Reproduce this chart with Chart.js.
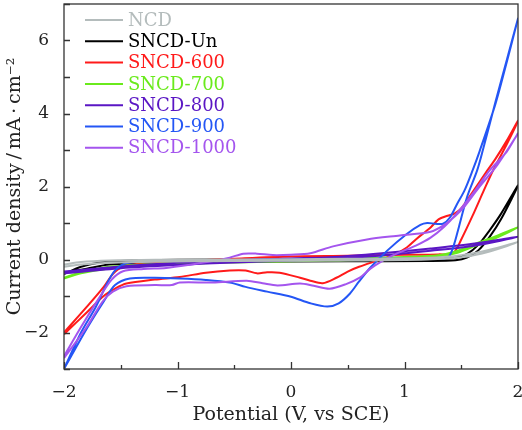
<!DOCTYPE html>
<html><head><meta charset="utf-8">
<script src="https://cdn.jsdelivr.net/npm/chart.js@4"></script>
<style>html,body{margin:0;padding:0;background:#fff}</style>
</head><body>
<canvas id="c" width="522" height="430"></canvas>
<script>
// ---- data (x = potential V vs SCE, y = current density mA/cm2), closed CV loops ----
const seriesNames = ["NCD", "SNCD-Un", "SNCD-600", "SNCD-700", "SNCD-800", "SNCD-900", "SNCD-1000"];
const seriesColors = ["#b4bcbc", "#000000", "#ff1a1a", "#6aea1c", "#5a16c4", "#2456f5", "#a455ee"];
const xTicks = [-2, -1, 0, 1, 2];
const yTicks = [-2, 0, 2, 4, 6];

const NCD = [[-2,-0.14],[-1.85,-0.07],[-1.6,-0.03],[-1.2,-0.01],[-0.5,0.0],[0.5,0.02],[1.2,0.05],[1.5,0.12],[1.75,0.27],[2,0.48],
  [1.75,0.22],[1.5,0.06],[1.2,0.0],[0.5,-0.03],[-0.5,-0.04],[-1.2,-0.06],[-1.6,-0.09],[-1.85,-0.14],[-2,-0.2]];
const SNCD_Un = [[-2,-0.4],[-1.85,-0.2],[-1.7,-0.09],[-1.5,-0.04],[-1,-0.01],[0,0.01],[0.8,0.02],[1.3,0.03],[1.45,0.05],[1.55,0.15],[1.65,0.4],[1.75,0.8],[1.85,1.25],[2,2.03],
  [1.85,1.1],[1.75,0.62],[1.65,0.25],[1.55,0.05],[1.45,-0.02],[1.2,-0.04],[0.5,-0.05],[-0.5,-0.06],[-1.2,-0.08],[-1.6,-0.14],[-1.8,-0.25],[-2,-0.36]];
const SNCD_600 = [[-2,-2.0],[-1.8,-1.3],[-1.65,-0.75],[-1.57,-0.4],[-1.48,-0.2],[-1.3,-0.1],[-1,-0.05],[-0.5,0.02],[0,0.08],[0.5,0.1],[1,0.13],[1.3,0.14],[1.43,0.18],[1.5,0.55],[1.6,1.2],[1.7,1.9],[1.78,2.44],[1.9,3.15],[2,3.8],
  [1.9,3.25],[1.8,2.75],[1.73,2.44],[1.6,1.85],[1.5,1.4],[1.44,1.26],[1.38,1.2],[1.3,1.1],[1.23,0.88],[1.1,0.55],[1.02,0.33],[0.9,0.12],[0.76,-0.03],[0.6,-0.2],[0.5,-0.33],[0.4,-0.5],[0.28,-0.65],[0.17,-0.58],[0.08,-0.5],[-0.1,-0.36],[-0.21,-0.35],[-0.3,-0.38],[-0.4,-0.3],[-0.54,-0.3],[-0.75,-0.36],[-0.98,-0.48],[-1.2,-0.55],[-1.45,-0.66],[-1.55,-0.8],[-1.65,-1.0],[-1.8,-1.45],[-2,-2.05]];
const SNCD_700 = [[-2,-0.5],[-1.85,-0.35],[-1.6,-0.2],[-1.2,-0.12],[-0.5,-0.05],[0.3,0.0],[1,0.07],[1.3,0.12],[1.45,0.22],[1.58,0.38],[1.8,0.63],[2,0.88],
  [1.8,0.58],[1.58,0.32],[1.45,0.17],[1.3,0.08],[1,0.02],[0.3,-0.03],[-0.5,-0.08],[-1.2,-0.15],[-1.6,-0.25],[-1.85,-0.38],[-2,-0.52]];
const SNCD_800 = [[-2,-0.33],[-1.5,-0.19],[-1,-0.09],[-0.5,-0.02],[0,0.03],[0.34,0.06],[0.8,0.17],[1.23,0.3],[1.6,0.43],[2,0.62],
  [1.6,0.37],[1.23,0.24],[0.8,0.11],[0.34,0.01],[0,-0.03],[-0.5,-0.08],[-1,-0.15],[-1.5,-0.24],[-2,-0.38]];
const SNCD_900 = [[-2,-3.0],[-1.85,-2.0],[-1.72,-1.3],[-1.62,-0.65],[-1.55,-0.3],[-1.47,-0.12],[-1.3,-0.06],[-1,-0.03],[0,0.0],[0.8,0.02],[1.2,0.03],[1.38,0.05],[1.43,0.35],[1.48,0.9],[1.55,1.7],[1.64,2.44],[1.69,2.99],[1.8,4.3],[1.9,5.45],[2,6.6],
  [1.9,5.4],[1.8,4.25],[1.66,2.95],[1.6,2.44],[1.53,1.9],[1.46,1.5],[1.4,1.15],[1.34,0.98],[1.27,0.98],[1.2,1.0],[1.14,0.95],[1.02,0.7],[0.85,0.25],[0.7,-0.22],[0.6,-0.6],[0.52,-0.93],[0.42,-1.2],[0.32,-1.29],[0.17,-1.2],[0.0,-1.02],[-0.21,-0.88],[-0.4,-0.75],[-0.54,-0.63],[-0.75,-0.56],[-0.98,-0.52],[-1.2,-0.5],[-1.42,-0.52],[-1.55,-0.7],[-1.65,-1.15],[-1.8,-1.9],[-2,-3.0]];
const SNCD_1000 = [[-2,-2.65],[-1.85,-1.85],[-1.7,-1.1],[-1.58,-0.55],[-1.48,-0.32],[-1.3,-0.26],[-1.1,-0.23],[-0.9,-0.15],[-0.7,-0.05],[-0.54,0.05],[-0.42,0.16],[-0.3,0.16],[-0.16,0.12],[0,0.13],[0.17,0.17],[0.37,0.36],[0.67,0.55],[0.96,0.66],[1.23,0.76],[1.35,0.95],[1.45,1.2],[1.52,1.42],[1.65,1.95],[1.82,2.6],[2,3.45],
  [1.9,2.95],[1.75,2.44],[1.6,1.8],[1.46,1.26],[1.35,0.9],[1.23,0.6],[1.1,0.38],[0.93,0.16],[0.81,-0.03],[0.7,-0.25],[0.61,-0.49],[0.48,-0.68],[0.34,-0.8],[0.2,-0.72],[0.08,-0.66],[-0.12,-0.71],[-0.25,-0.65],[-0.39,-0.58],[-0.69,-0.63],[-0.98,-0.63],[-1.05,-0.7],[-1.2,-0.7],[-1.45,-0.73],[-1.57,-0.88],[-1.66,-1.15],[-1.8,-1.85],[-2,-2.7]];

const seriesData = [NCD, SNCD_Un, SNCD_600, SNCD_700, SNCD_800, SNCD_900, SNCD_1000];

const SERIF = "'DejaVu Serif', 'Liberation Serif', serif";
const fmt = v => (v < 0 ? "\u2212" + Math.abs(v) : String(v));

const framePlugin = {
  id: 'frame',
  afterDatasetsDraw(chart) {
    const ctx = chart.ctx, a = chart.chartArea;
    const xs = chart.scales.x, ys = chart.scales.y;
    ctx.save();
    ctx.strokeStyle = '#333';
    ctx.lineWidth = 1.3;
    ctx.strokeRect(a.left, a.top, a.right - a.left, a.bottom - a.top);
    ctx.beginPath();
    for (let v = -2; v <= 2.001; v += 0.5) {
      const px = Math.round(xs.getPixelForValue(v)) + 0.5;
      const len = Math.abs(v - Math.round(v)) < 1e-6 ? 7 : 4;
      ctx.moveTo(px, a.bottom); ctx.lineTo(px, a.bottom - len);
    }
    for (let v = -3; v <= 7; v += 1) {
      const py = Math.round(ys.getPixelForValue(v)) + 0.5;
      ctx.moveTo(a.left, py); ctx.lineTo(a.left + 6, py);
    }
    ctx.stroke();
    // legend
    ctx.font = "18px " + SERIF;
    ctx.textBaseline = 'middle';
    chart.data.datasets.forEach((ds, i) => {
      const y = 20 + i * 21.3;
      ctx.strokeStyle = ds.borderColor;
      ctx.lineWidth = 2;
      ctx.beginPath(); ctx.moveTo(85, y); ctx.lineTo(123, y); ctx.stroke();
      ctx.fillStyle = ds.borderColor;
      ctx.fillText(ds.label, 128, y + 1);
    });
    ctx.restore();
  }
};

new Chart(document.getElementById('c'), {
  type: 'scatter',
  data: {
    datasets: seriesNames.map((n, i) => ({
      label: n,
      data: seriesData[i].map(p => ({x: p[0], y: p[1]})),
      showLine: true,
      borderColor: seriesColors[i],
      backgroundColor: seriesColors[i],
      borderWidth: 2,
      pointRadius: 0,
      tension: 0.3,
      fill: false,
      order: i === 0 ? -1 : 7 - i
    }))
  },
  options: {
    responsive: false,
    animation: false,
    layout: {padding: {top: 4, right: 4, left: 0, bottom: 0}},
    plugins: {legend: {display: false}, tooltip: {enabled: false}},
    scales: {
      x: {
        type: 'linear', min: -2, max: 2,
        afterBuildTicks: s => { s.ticks = xTicks.map(v => ({value: v})); },
        ticks: {callback: v => fmt(v), font: {family: SERIF, size: 17}, color: '#222', padding: 5, maxRotation: 0},
        grid: {display: false},
        border: {display: false},
        title: {display: true, text: 'Potential (V, vs SCE)', font: {family: SERIF, size: 19}, color: '#222', padding: {top: 2}},
        afterFit: s => { s.height = 61; s.paddingLeft = 0; s.paddingRight = 0; }
      },
      y: {
        type: 'linear', min: -3, max: 7,
        afterBuildTicks: s => { s.ticks = yTicks.map(v => ({value: v})); },
        ticks: {callback: v => fmt(v), font: {family: SERIF, size: 17}, color: '#222', padding: 7},
        grid: {display: false},
        border: {display: false},
        title: {display: true, text: 'Current density\u2009/\u2009mA\u2009\u00B7\u2009cm\u207B\u00B2', font: {family: SERIF, size: 19}, color: '#222', padding: {bottom: 0}},
        afterFit: s => { s.width = 64; s.paddingTop = 0; s.paddingBottom = 0; }
      }
    }
  },
  plugins: [framePlugin]
});
</script>
</body></html>
